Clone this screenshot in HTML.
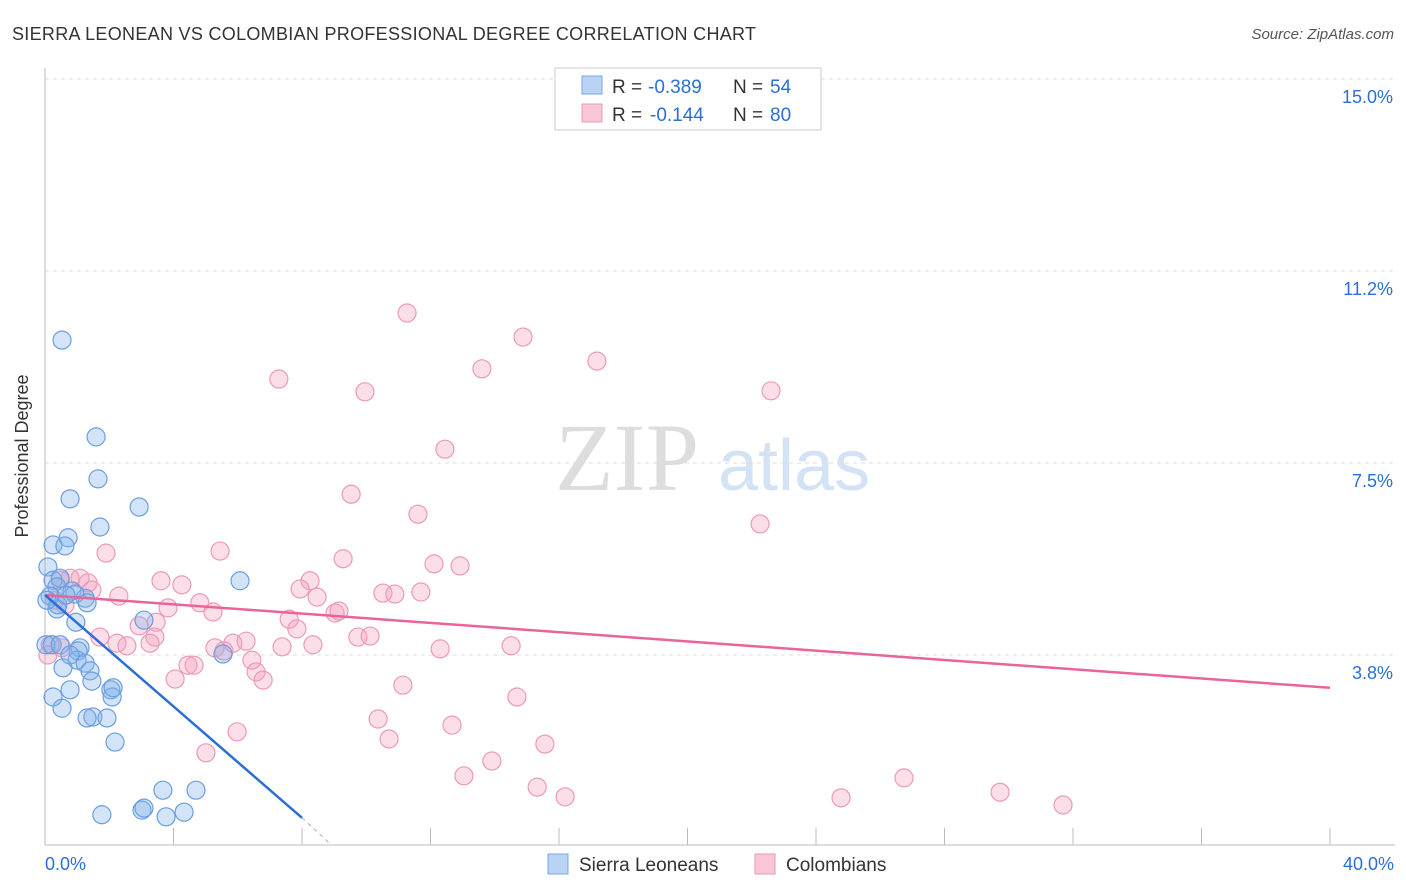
<!DOCTYPE html>
<html><head><meta charset="utf-8"><style>
body{margin:0;background:#fff;font-family:"Liberation Sans",sans-serif}
svg{display:block}
</style></head><body>
<svg id="c" width="1406" height="892" xmlns="http://www.w3.org/2000/svg">
<text x="12" y="40" font-size="18" fill="#333" letter-spacing="0.3">SIERRA LEONEAN VS COLOMBIAN PROFESSIONAL DEGREE CORRELATION CHART</text>
<text x="1394" y="39" font-size="15" fill="#555" text-anchor="end" font-style="italic">Source: ZipAtlas.com</text>
<g>
<text x="555" y="490" font-size="96" font-family="Liberation Serif,serif" fill="#ddd">ZIP</text>
<text x="718" y="490" font-size="72" fill="#d3e2f5">atlas</text>
</g>
<g id="grid"></g>
<g id="axes"></g>
<g id="pts"></g>
<g id="lines"></g>
<g>
<rect x="555" y="68" width="266" height="62" fill="#fff" stroke="#ccc"/>
<rect x="582" y="76" width="20" height="18" fill="#b9d3f5" stroke="#7aa7e4"/>
<rect x="582" y="104" width="20" height="18" fill="#f9c6d6" stroke="#ec9ab7"/>
<text x="612" y="93" font-size="19" fill="#333">R =</text>
<text x="648" y="93" font-size="19" fill="#2a6fd6">-0.389</text>
<text x="733" y="93" font-size="19" fill="#333">N =</text>
<text x="770" y="93" font-size="19" fill="#2a6fd6">54</text>
<text x="612" y="121" font-size="19" fill="#333">R =</text>
<text x="650" y="121" font-size="19" fill="#2a6fd6">-0.144</text>
<text x="733" y="121" font-size="19" fill="#333">N =</text>
<text x="770" y="121" font-size="19" fill="#2a6fd6">80</text>
</g>
<g>
<rect x="548" y="854" width="20" height="20" fill="#b9d3f5" stroke="#7aa7e4"/>
<text x="579" y="871" font-size="19" fill="#333">Sierra Leoneans</text>
<rect x="755" y="854" width="20" height="20" fill="#f9c6d6" stroke="#ec9ab7"/>
<text x="786" y="871" font-size="19" fill="#333">Colombians</text>
</g>
<text x="28" y="456" font-size="18" fill="#333" text-anchor="middle" transform="rotate(-90 28 456)">Professional Degree</text>
</svg>
<script>
const yTicks=[3.75,7.5,11.25,15];
const yTickLabels=["3.8%","7.5%","11.2%","15.0%"];
const xLabels=["0.0%","40.0%"];
const blueX=[0.53,1.59,1.65,0.78,2.93,1.71,0.72,0.25,0.62,0.09,6.07,0.25,0.47,0.37,0.84,0.16,1.25,0.93,0.37,1.31,3.08,0.96,0.03,0.22,0.47,1.09,1.03,1.00,0.56,1.25,1.40,1.46,5.54,2.05,2.09,0.78,0.25,0.53,1.49,1.31,1.93,2.18,3.67,4.70,3.02,3.08,1.77,3.77,4.33,0.40,0.06,0.65,2.12,0.78];
const blueY=[9.90,8.01,7.19,6.80,6.64,6.25,6.04,5.90,5.88,5.47,5.20,5.21,5.25,5.08,5.00,4.90,4.86,4.94,4.65,4.77,4.43,4.39,3.95,3.95,3.95,3.89,3.83,3.65,3.50,3.59,3.44,3.24,3.77,3.07,2.93,3.07,2.93,2.71,2.54,2.52,2.52,2.05,1.11,1.11,0.72,0.76,0.63,0.59,0.68,4.73,4.82,4.92,3.11,3.75];
const pinkX=[11.27,14.88,17.18,7.28,9.96,13.60,22.60,12.45,9.53,11.61,22.26,1.90,5.45,9.28,12.11,12.92,3.61,4.26,8.25,7.94,8.47,10.52,10.89,11.70,2.30,3.83,4.82,5.23,9.03,9.15,7.60,2.93,3.46,7.84,3.42,1.71,2.24,2.55,3.27,5.29,5.85,6.26,7.38,8.34,9.74,10.12,12.30,14.51,5.57,6.44,4.45,4.64,4.05,6.57,6.79,11.14,14.69,5.01,5.98,10.37,10.71,12.67,15.56,13.04,13.91,15.32,16.19,24.78,26.74,29.73,31.69,0.09,0.47,0.78,1.09,1.34,1.46,0.31,0.62,0.16,0.53];
const pinkY=[10.43,9.96,9.49,9.14,8.89,9.34,8.91,7.77,6.89,6.50,6.31,5.74,5.78,5.63,5.53,5.49,5.20,5.12,5.20,5.04,4.88,4.96,4.94,4.98,4.90,4.67,4.77,4.59,4.57,4.61,4.45,4.32,4.39,4.26,4.10,4.10,3.98,3.93,3.98,3.89,3.98,4.02,3.91,3.95,4.10,4.12,3.87,3.93,3.83,3.65,3.55,3.55,3.28,3.42,3.26,3.16,2.93,1.84,2.25,2.50,2.11,2.38,2.01,1.39,1.68,1.17,0.98,0.96,1.35,1.07,0.82,3.75,5.21,5.25,5.25,5.16,5.02,4.82,4.73,3.95,3.89];
const blueTrend=[[0,4.92],[8.0,0.57]];
const blueDash=[[8.0,0.57],[8.9,0.05]];
const pinkTrend=[[0,4.92],[40,3.11]];
const NS="http://www.w3.org/2000/svg";
const X=v=>45+v/40*1285, Y=v=>847-v/3.75*192;
function mk(t,a,p){const e=document.createElementNS(NS,t);for(const k in a)e.setAttribute(k,a[k]);p.appendChild(e);return e;}
const grid=document.getElementById('grid'),axes=document.getElementById('axes'),pts=document.getElementById('pts'),lines=document.getElementById('lines');
yTicks.forEach((t,i)=>{
 const l=mk('line',{x1:45,x2:1395,y1:Y(t),y2:Y(t),stroke:'#ddd','stroke-dasharray':'4,4'},grid);
 
 
 const tx=mk('text',{x:1393,y:Y(t)+24,'font-size':18,fill:'#2a6fd6','text-anchor':'end'},axes);
 tx.textContent=yTickLabels[i];
 
 
});
const ya=mk('line',{x1:45,x2:45,y1:68,y2:845,stroke:'#bbb'},axes);


const xa=mk('line',{x1:45,x2:1395,y1:845,y2:845,stroke:'#bbb'},axes);


for(let i=1;i<=10;i++){
 const tk=mk('line',{x1:X(i*4),x2:X(i*4),y1:828,y2:845,stroke:'#bbb'},axes);
 
 
}
[[0,'start',45],[40,'end',1394]].forEach((d,i)=>{
 const t=mk('text',{x:d[2],y:870,'font-size':18,fill:'#2a6fd6','text-anchor':d[1]},axes);
 t.textContent=xLabels[i];
 
 
});
pinkX.forEach((v,i)=>{
 const c=mk('circle',{cx:X(v),cy:Y(pinkY[i]),r:9,fill:'rgba(243,160,188,0.35)',stroke:'#ec9ab7','stroke-width':1.2},pts);
 
 
});
blueX.forEach((v,i)=>{
 const c=mk('circle',{cx:X(v),cy:Y(blueY[i]),r:9,fill:'rgba(130,178,235,0.35)',stroke:'#6a9ee0','stroke-width':1.2},pts);
 
 
});
function ln(p,st,w,dash,name){const e=mk('line',{x1:X(p[0][0]),y1:Y(p[0][1]),x2:X(p[1][0]),y2:Y(p[1][1]),stroke:st,'stroke-width':w},lines);if(dash)e.setAttribute('stroke-dasharray',dash);
 
 }
ln(pinkTrend,'#e8649a',2.5,null,'colombian-trend-line');
ln(blueTrend,'#2a6fd6',2.5,null,'sierra-leonean-trend-line');
ln(blueDash,'#aaa',1,'4,4','sierra-leonean-trend-extension');
</script>
</body></html>
